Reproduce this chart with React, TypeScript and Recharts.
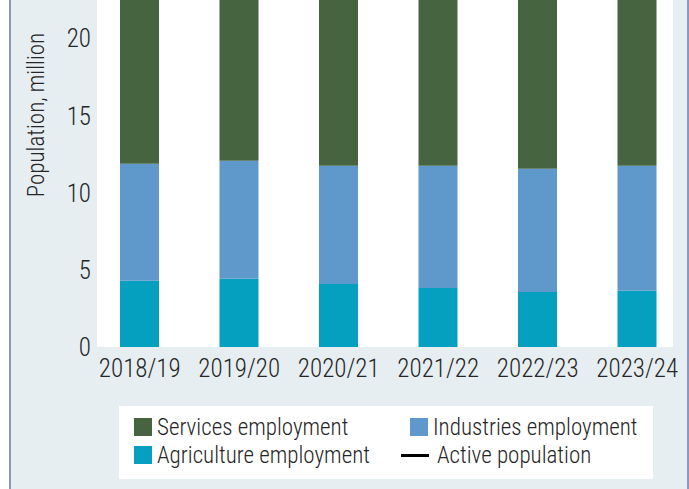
import { ComposedChart, Bar, Line, XAxis, YAxis, CartesianGrid } from "recharts";

const categories = ["2018/19", "2019/20", "2020/21", "2021/22", "2022/23", "2023/24"];
const agriculture = [4.29, 4.42, 4.09, 3.83, 3.57, 3.64];
const industries = [7.59, 7.66, 7.66, 7.92, 7.99, 8.11];
// upper part of these series lies above the visible frame
const services = [12.6, 12.7, 12.9, 13.1, 13.3, 13.4];
const activePopulation = [26.8, 27.0, 27.1, 27.3, 27.2, 27.5];
const yTicks = [0, 5, 10, 15, 20];

const FONT = "'Liberation Sans Narrow', 'Roboto Condensed', 'DejaVu Sans Condensed', 'Liberation Sans', sans-serif";
const TEXT = "#262626";

const data = categories.map((cat, i) => ({
  cat,
  agriculture: agriculture[i],
  industries: industries[i],
  services: services[i],
  active: activePopulation[i],
}));

const legendItems = [
  { name: "Services employment", color: "#466440", kind: "box", col: 0, row: 0 },
  { name: "Industries employment", color: "#5f99cb", kind: "box", col: 1, row: 0 },
  { name: "Agriculture employment", color: "#05a0bf", kind: "box", col: 0, row: 1 },
  { name: "Active population", color: "#000000", kind: "line", col: 1, row: 1 },
];

function YLabel() {
  return (
    <text x={25} y={115} transform="rotate(-90 25 115)" textAnchor="middle" dominantBaseline="central" fill={TEXT} fontSize={23} fontWeight={300} fontFamily={FONT}>
      Population, million
    </text>
  );
}

export default function App() {
  return (
    <div
      style={{
        position: "absolute",
        top: 0,
        left: 9,
        width: 676,
        height: 489,
        background: "#e7eef2",
        borderLeft: "2px solid #8b97bf",
        borderRight: "2px solid #8b97bf",
        overflow: "hidden",
        fontFamily: FONT,
        fontWeight: 300,
      }}
    >
      <ComposedChart width={676} height={489} data={data} margin={{ top: 0, right: 14, bottom: 112, left: 0 }}>
        <CartesianGrid fill="#ffffff" stroke="none" horizontal={false} vertical={false} />
        <XAxis
          dataKey="cat"
          height={30}
          interval={0}
          padding={{ left: -7, right: -14 }}
          tickLine={false}
          axisLine={false}
          tickSize={0}
          tickMargin={12}
          tick={{ fill: TEXT, fontSize: 25, fontWeight: 300, fontFamily: FONT }}
        />
        <YAxis
          width={86}
          domain={[0, 22.5]}
          ticks={yTicks}
          allowDataOverflow
          tickLine={false}
          axisLine={false}
          tickSize={0}
          tickMargin={6}
          tick={{ fill: TEXT, fontSize: 25, fontWeight: 300, fontFamily: FONT }}
          label={<YLabel />}
        />
        <Bar dataKey="agriculture" stackId="a" fill="#05a0bf" barSize={39} isAnimationActive={false} />
        <Bar dataKey="industries" stackId="a" fill="#5f99cb" barSize={39} isAnimationActive={false} />
        <Bar dataKey="services" stackId="a" fill="#466440" barSize={39} isAnimationActive={false} />
        <Line dataKey="active" stroke="#000000" strokeWidth={3} dot={false} isAnimationActive={false} />
      </ComposedChart>
      <div style={{ position: "absolute", left: 108, top: 406, width: 534, height: 73, background: "#ffffff" }}>
        {legendItems.map((it) => (
          <div
            key={it.name}
            style={{
              position: "absolute",
              left: it.col === 0 ? 15 : it.kind === "line" ? 282 : 291,
              top: it.row === 0 ? 8 : 36,
              height: 26,
              display: "flex",
              alignItems: "center",
              whiteSpace: "nowrap",
              color: TEXT,
              fontSize: 23,
            }}
          >
            {it.kind === "box" ? (
              <span style={{ display: "inline-block", width: 18, height: 18, background: it.color, marginRight: 5 }} />
            ) : (
              <span style={{ display: "inline-block", width: 28, height: 3, background: it.color, marginRight: 8 }} />
            )}
            {it.name}
          </div>
        ))}
      </div>
    </div>
  );
}
